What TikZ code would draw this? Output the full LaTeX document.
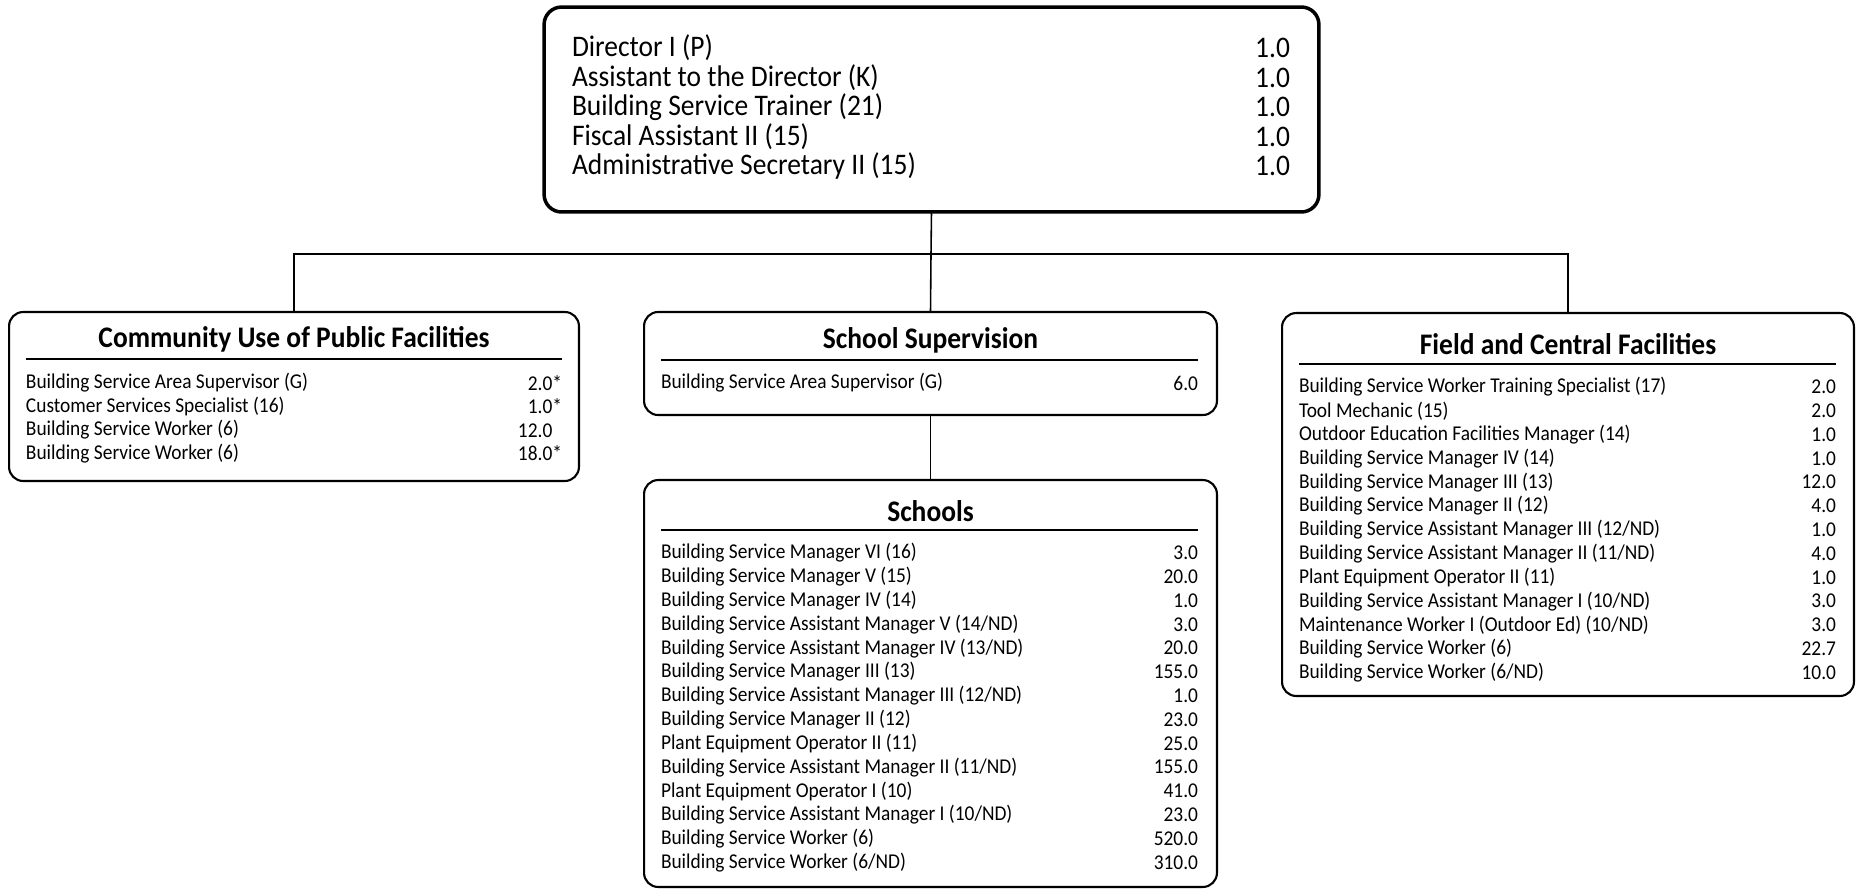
\documentclass[tikz,border=0pt]{standalone}
\usepackage{fontspec}
\setmainfont{Carlito}[FakeStretch=0.92]
\usetikzlibrary{positioning}

\begin{document}
\begin{tikzpicture}[
    x=0.02cm, y=-0.02cm,
    every node/.style={inner sep=0pt, outer sep=0pt},
    topbox/.style={draw, line width=2pt, rounded corners=10pt},
    unitbox/.style={draw, line width=1.2pt, rounded corners=8pt},
    boxtitle/.style={font=\bfseries\fontsize{17}{19}\selectfont},
    toprow/.style={font=\fontsize{17}{19}\selectfont},
    rowtext/.style={font=\fontsize{12}{14}\selectfont},
    titlerule/.style={line width=0.6pt},
    link/.style={line width=0.9pt}
]
    \useasboundingbox (0,0) rectangle (1860,890);

    % Director's office
    \node[topbox, minimum width=15.5cm, minimum height=4.1cm] (dir) at (931.5,109.5) {};
    \foreach \txt/\num [count=\i from 0] in {
        {Director I (P)}/1.0,
        {Assistant to the Director (K)}/1.0,
        {Building Service Trainer (21)}/1.0,
        {Fiscal Assistant II (15)}/1.0,
        {Administrative Secretary II (15)}/1.0} {
        \node[toprow, anchor=west] (dir-l\i) at (572,{48+29.5*\i}) {\txt};
        \node[toprow, anchor=east] (dir-v\i) at (1290,{48+29.5*\i}) {\num};
    }

    % Community Use of Public Facilities
    \node[unitbox, minimum width=11.4cm, minimum height=3.38cm] (cupf) at (294,396.5) {};
    \node[boxtitle] (cupf-t) at (294,339) {Community Use of Public Facilities};
    \draw[titlerule] (26,359) -- (562,359);
    \foreach \txt/\num [count=\i from 0] in {
        {Building Service Area Supervisor (G)}/2.0*,
        {Customer Services Specialist (16)}/1.0*,
        {Building Service Worker (6)}/12.0\phantom{*},
        {Building Service Worker (6)}/18.0*} {
        \node[rowtext, anchor=west] (cupf-l\i) at (26,{383+23.5*\i}) {\txt};
        \node[rowtext, anchor=east] (cupf-v\i) at (562,{383+23.5*\i}) {\num};
    }

    % School Supervision
    \node[unitbox, minimum width=11.46cm, minimum height=2.06cm] (ssup) at (930.5,363.5) {};
    \node[boxtitle] (ssup-t) at (930.5,340) {School Supervision};
    \draw[titlerule] (661,360) -- (1198,360);
    \node[rowtext, anchor=west] (ssup-l0) at (661,383) {Building Service Area Supervisor (G)};
    \node[rowtext, anchor=east] (ssup-v0) at (1198,383) {6.0};

    % Schools
    \node[unitbox, minimum width=11.46cm, minimum height=8.14cm] (schl) at (930.5,683.5) {};
    \node[boxtitle] (schl-t) at (930.5,511) {Schools};
    \draw[titlerule] (661,530) -- (1198,530);
    \foreach \txt/\num [count=\i from 0] in {
        {Building Service Manager VI (16)}/3.0,
        {Building Service Manager V (15)}/20.0,
        {Building Service Manager IV (14)}/1.0,
        {Building Service Assistant Manager V (14/ND)}/3.0,
        {Building Service Assistant Manager IV (13/ND)}/20.0,
        {Building Service Manager III (13)}/155.0,
        {Building Service Assistant Manager III (12/ND)}/1.0,
        {Building Service Manager II (12)}/23.0,
        {Plant Equipment Operator II (11)}/25.0,
        {Building Service Assistant Manager II (11/ND)}/155.0,
        {Plant Equipment Operator I (10)}/41.0,
        {Building Service Assistant Manager I (10/ND)}/23.0,
        {Building Service Worker (6)}/520.0,
        {Building Service Worker (6/ND)}/310.0} {
        \node[rowtext, anchor=west] (schl-l\i) at (661,{553+23.8*\i}) {\txt};
        \node[rowtext, anchor=east] (schl-v\i) at (1198,{553+23.8*\i}) {\num};
    }

    % Field and Central Facilities
    \node[unitbox, minimum width=11.44cm, minimum height=7.66cm] (fcf) at (1568,504.5) {};
    \node[boxtitle] (fcf-t) at (1568,344) {Field and Central Facilities};
    \draw[titlerule] (1299,364) -- (1836,364);
    \foreach \txt/\num [count=\i from 0] in {
        {Building Service Worker Training Specialist (17)}/2.0,
        {Tool Mechanic (15)}/2.0,
        {Outdoor Education Facilities Manager (14)}/1.0,
        {Building Service Manager IV (14)}/1.0,
        {Building Service Manager III (13)}/12.0,
        {Building Service Manager II (12)}/4.0,
        {Building Service Assistant Manager III (12/ND)}/1.0,
        {Building Service Assistant Manager II (11/ND)}/4.0,
        {Plant Equipment Operator II (11)}/1.0,
        {Building Service Assistant Manager I (10/ND)}/3.0,
        {Maintenance Worker I (Outdoor Ed) (10/ND)}/3.0,
        {Building Service Worker (6)}/22.7,
        {Building Service Worker (6/ND)}/10.0} {
        \node[rowtext, anchor=west] (fcf-l\i) at (1299,{387+23.8*\i}) {\txt};
        \node[rowtext, anchor=east] (fcf-v\i) at (1836,{387+23.8*\i}) {\num};
    }

    % Reporting lines
    \coordinate (bus) at (931,254);
    \draw[link] (dir.south) -- (bus);
    \draw[link] (bus) -| (cupf.north);
    \draw[link] (bus) -| (fcf.north);
    \draw[link] (bus) -- (ssup.north);
    \draw[link] (ssup.south) -- (schl.north);
\end{tikzpicture}
\end{document}
